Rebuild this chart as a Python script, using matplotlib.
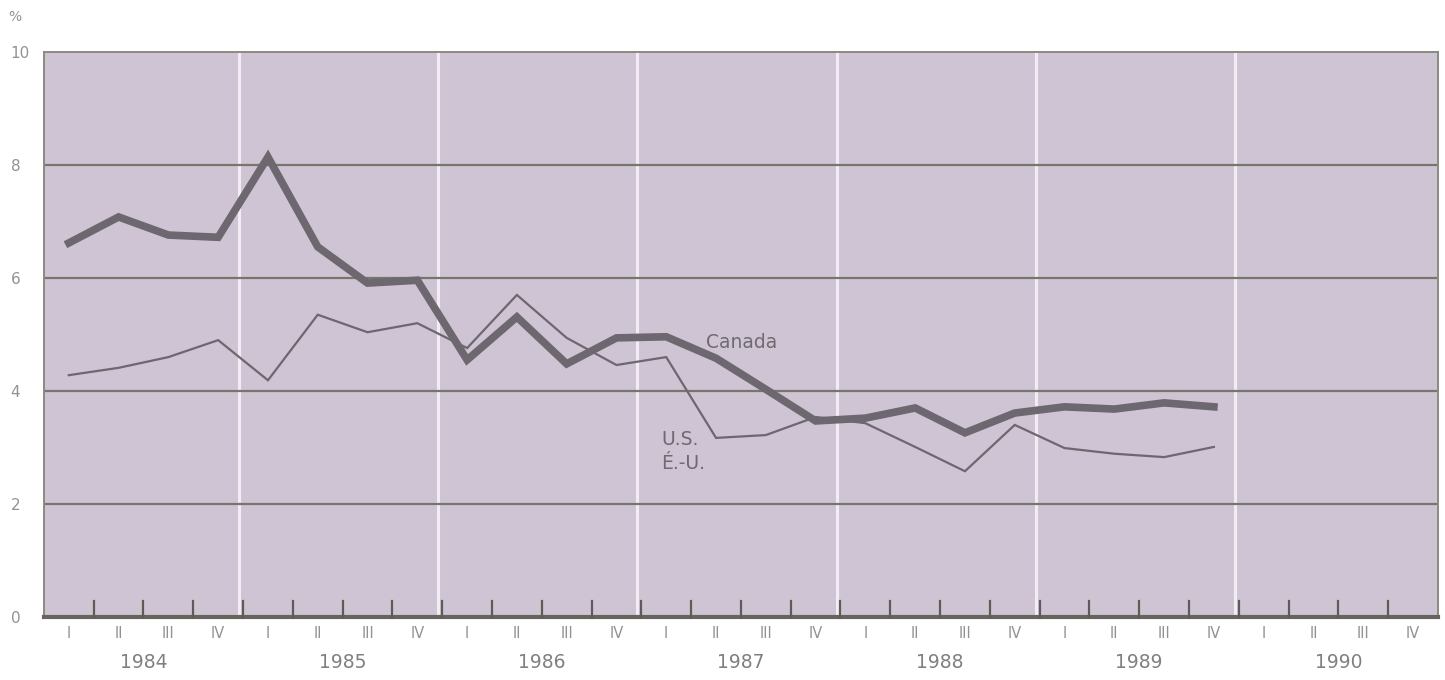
import numpy as np
import matplotlib
matplotlib.use('Agg')
import matplotlib.pyplot as plt

years = ["1984", "1985", "1986", "1987", "1988", "1989", "1990"]
quarters = ["I", "II", "III", "IV"]

# quarterly values, 1984 I .. 1989 IV
canada = [6.62, 7.08, 6.76, 6.72, 8.14, 6.55, 5.91, 5.96,
          4.55, 5.31, 4.48, 4.94, 4.96, 4.58, 4.03, 3.47,
          3.52, 3.70, 3.26, 3.61, 3.72, 3.68, 3.79, 3.72]
us = [4.28, 4.41, 4.60, 4.90, 4.19, 5.35, 5.04, 5.20,
      4.76, 5.70, 4.94, 4.46, 4.60, 3.17, 3.22, 3.54,
      3.43, 3.01, 2.58, 3.40, 2.99, 2.89, 2.83, 3.01]

BG = "#cfc4d4"
LINE = "#6d676f"
GRID = "#77756c"
TXT = "#929292"

fig = plt.figure(figsize=(14.45, 6.8), dpi=100)
ax = fig.add_axes([0.0304, 0.0926, 0.9647, 0.831])
ax.set_facecolor(BG)

n_q = len(years) * 4
ax.set_xlim(0, n_q)
ax.set_ylim(0, 10)

# white year separators and horizontal gridlines
for k in range(1, len(years)):
    ax.axvline(4 * k - 0.08, color="#f2edf4", lw=2.2, zorder=1)
for yv in [2, 4, 6, 8]:
    ax.axhline(yv, color=GRID, lw=1.6, zorder=2)

x = np.arange(len(canada)) + 0.5
ax.plot(x, us, color=LINE, lw=1.6, zorder=3, solid_joinstyle="miter")
ax.plot(x, canada, color=LINE, lw=5.5, zorder=4, solid_joinstyle="miter")

ax.text(13.3, 4.85, "Canada", fontsize=13.5, color="#6f6a70", va="center", zorder=5)
ax.text(12.4, 3.14, "U.S.", fontsize=13.5, color="#6f6a70", va="center", zorder=5)
ax.text(12.4, 2.72, "É.-U.", fontsize=13.5, color="#6f6a70", va="center", zorder=5)

# inner quarter ticks on the bottom axis
for q in range(1, n_q):
    ax.plot([q, q], [0, 0.28], color="#5e5c58", lw=1.6, zorder=5, clip_on=False)

ax.set_xticks([])
ax.set_yticks([0, 2, 4, 6, 8, 10])
ax.set_yticklabels(["0", "2", "4", "6", "8", "10"], fontsize=11, color=TXT)
ax.tick_params(axis="y", length=0, pad=24)
for lab in ax.get_yticklabels():
    lab.set_horizontalalignment("left")

for q in range(n_q):
    ax.text(q + 0.5, -0.3, quarters[q % 4], ha="center", va="center",
            fontsize=10.5, color=TXT, clip_on=False)
for k, yr in enumerate(years):
    ax.text(4 * k + 2, -0.8, yr, ha="center", va="center",
            fontsize=13.5, color="#808080", clip_on=False)

fig.text(0.006, 0.975, "%", fontsize=10, color=TXT, va="center")

for side in ["left", "top", "right"]:
    ax.spines[side].set_color("#8b8a80")
    ax.spines[side].set_linewidth(1.4)
ax.spines["bottom"].set_color("#66645c")
ax.spines["bottom"].set_linewidth(3)

fig.savefig("out.png", dpi=100, facecolor="white")
